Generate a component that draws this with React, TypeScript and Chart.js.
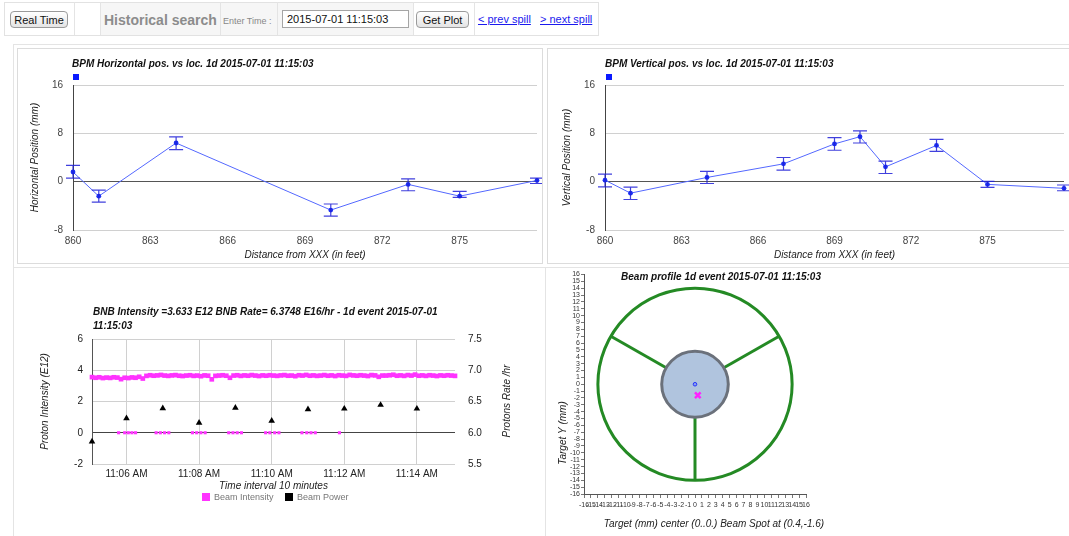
import React, { useEffect, useRef } from 'react';
import { Chart, registerables } from 'chart.js';

Chart.register(...registerables);

const FONT = "'Liberation Sans', Arial, Helvetica, sans-serif";
Chart.defaults.font.family = FONT;

// ---------- BPM horizontal ----------
const hLocations = [860, 861, 864, 870, 873, 875, 878];
const hPositions = [1.6, -2.4, 6.4, -4.7, -0.45, -2.4, 0.2];
const hErrHigh = [2.7, -1.4, 7.4, -3.7, 0.45, -1.6, 0.6];
const hErrLow = [0.6, -3.4, 5.3, -5.7, -1.5, -2.6, -0.3];

// ---------- BPM vertical ----------
const vLocations = [860, 861, 864, 867, 869, 870, 871, 873, 875, 878];
const vPositions = [0.25, -1.9, 0.7, 2.95, 6.25, 7.45, 2.45, 6.0, -0.45, -1.1];
const vErrHigh = [1.25, -0.9, 1.7, 4.0, 7.3, 8.4, 3.4, 7.0, 0.05, -0.55];
const vErrLow = [-0.85, -2.95, -0.3, 1.9, 5.2, 6.4, 1.35, 5.0, -0.95, -1.5];

// ---------- BNB intensity (seconds after 11:00:00) ----------
const timeMin = 303;
const timeMax = 903;
const timeTickSeconds = [360, 480, 600, 720, 840];
const timeTickLabels = ['11:06 AM', '11:08 AM', '11:10 AM', '11:12 AM', '11:14 AM'];
const intensityStart = 303;
const intensityStep = 6;
const intensityValues = [
  3.56, 3.52, 3.55, 3.50, 3.53, 3.51, 3.55, 3.53, 3.43, 3.52,
  3.50, 3.54, 3.52, 3.58, 3.47, 3.64, 3.68, 3.65, 3.67, 3.70,
  3.66, 3.64, 3.67, 3.69, 3.65, 3.63, 3.66, 3.68, 3.64, 3.66,
  3.62, 3.67, 3.65, 3.42, 3.64, 3.66, 3.68, 3.65, 3.52, 3.66,
  3.68, 3.64, 3.67, 3.65, 3.69, 3.66, 3.63, 3.67, 3.65, 3.68,
  3.66, 3.64, 3.67, 3.69, 3.65, 3.66, 3.62, 3.68, 3.66, 3.70,
  3.65, 3.67, 3.64, 3.66, 3.69, 3.65, 3.67, 3.63, 3.68, 3.66,
  3.64, 3.70, 3.67, 3.65, 3.68, 3.66, 3.63, 3.69, 3.67, 3.58,
  3.66, 3.66, 3.68, 3.71, 3.65, 3.67, 3.64, 3.69, 3.66, 3.72,
  3.65, 3.67, 3.64, 3.68, 3.66, 3.63, 3.67, 3.65, 3.68, 3.66, 3.64,
];
const zeroIntensityTimes = [
  347, 357, 363, 369, 375, 409, 416, 423, 430, 469, 476, 483, 490,
  529, 536, 543, 550, 590, 597, 605, 612, 650, 658, 665, 672, 712,
];
const powerTimes = [303, 360, 420, 480, 540, 600, 660, 720, 780, 840];
const powerValues = [5.86, 6.23, 6.39, 6.16, 6.40, 6.19, 6.375, 6.385, 6.445, 6.385];

// ---------- Beam profile ----------
const targetCenter = [0, 0];
const targetRadius = 14;
const coreRadius = 4.8;
const spokeAngles = [30, 150, 270];
const beamCenter = [0, 0];
const beamSpot = [0.4, -1.6];

type TextItem = {
  text?: string; x: number; y: number; font?: string; color?: string;
  align?: CanvasTextAlign; rotate?: number; rect?: boolean; w?: number; h?: number;
};

function makeDecor(items: TextItem[]) {
  return {
    id: 'decor',
    afterDraw(chart: any) {
      const ctx = chart.ctx as CanvasRenderingContext2D;
      items.forEach((it) => {
        ctx.save();
        if (it.rect) {
          ctx.fillStyle = it.color || '#000';
          ctx.fillRect(it.x, it.y, it.w || 6, it.h || 6);
        } else {
          ctx.font = it.font || `10px ${FONT}`;
          ctx.fillStyle = it.color || '#222';
          ctx.textAlign = it.align || 'left';
          ctx.textBaseline = 'middle';
          ctx.translate(it.x, it.y);
          if (it.rotate) ctx.rotate((it.rotate * Math.PI) / 180);
          ctx.fillText(it.text || '', 0, 0);
        }
        ctx.restore();
      });
    },
  };
}

function makeErrorBars(xs: number[], hi: number[], lo: number[]) {
  return {
    id: 'errorBars',
    afterDatasetsDraw(chart: any) {
      const { ctx, scales } = chart;
      const x = scales.x, y = scales.y;
      ctx.save();
      ctx.strokeStyle = 'rgba(30,30,215,0.85)';
      ctx.lineWidth = 1.2;
      xs.forEach((v, i) => {
        const px = x.getPixelForValue(v);
        const pt = y.getPixelForValue(hi[i]);
        const pb = y.getPixelForValue(lo[i]);
        ctx.beginPath();
        ctx.moveTo(px, pt); ctx.lineTo(px, pb);
        ctx.moveTo(px - 7, pt); ctx.lineTo(px + 7, pt);
        ctx.moveTo(px - 7, pb); ctx.lineTo(px + 7, pb);
        ctx.stroke();
      });
      ctx.restore();
    },
  };
}

function bpmConfig(locs: number[], pos: number[], hi: number[], lo: number[], title: string, yTitle: string, titleX: number, rightPad: number) {
  return {
    type: 'scatter',
    data: {
      datasets: [{
        data: locs.map((x, i) => ({ x, y: pos[i] })),
        showLine: true,
        borderColor: '#5468ff',
        borderWidth: 1,
        pointRadius: 2.4,
        pointBackgroundColor: '#1b2ff2',
        pointBorderWidth: 0,
        clip: false,
      }],
    },
    options: {
      animation: false,
      responsive: false,
      layout: { padding: { left: 0, right: rightPad, top: 37, bottom: 0 } },
      plugins: { legend: { display: false }, tooltip: { enabled: false } },
      scales: {
        x: {
          type: 'linear', min: 860, max: 878,
          afterFit: (s: any) => { s.height = 33; },
          ticks: {
            stepSize: 3, padding: 5, color: '#444', font: { size: 10 }, maxRotation: 0, autoSkip: false,
            callback: (v: any) => (v === 878 ? '' : String(v)),
          },
          grid: { display: false, drawTicks: false },
          border: { display: false },
          title: { display: true, text: 'Distance from XXX (in feet)', color: '#222', font: { size: 10, style: 'italic' }, padding: { top: 0, bottom: 2 } },
        },
        y: {
          type: 'linear', min: -8, max: 16,
          afterFit: (s: any) => { s.width = 56; },
          ticks: { stepSize: 8, padding: 10, color: '#444', font: { size: 10 } },
          grid: { color: (c: any) => (c.tick && c.tick.value === 0 ? '#555' : '#d0d0d0'), drawTicks: false },
          border: { display: true, color: '#444' },
          title: { display: true, text: yTitle, color: '#222', font: { size: 10, style: 'italic' }, padding: { top: 12, bottom: 0 } },
        },
      },
    },
    plugins: [
      makeErrorBars(locs, hi, lo),
      makeDecor([
        { text: title, x: titleX, y: 16, font: `italic bold 10px ${FONT}`, color: '#111' },
        { rect: true, x: titleX + 1, y: 26, w: 6, h: 6, color: '#0a1aff' },
      ]),
    ],
  };
}

function intensityConfig() {
  const band = intensityValues.map((v, i) => ({ x: intensityStart + i * intensityStep, y: v }));
  const zeros = zeroIntensityTimes.map((t) => ({ x: t, y: 0 }));
  return {
    type: 'scatter',
    data: {
      datasets: [
        {
          label: 'Beam Intensity', data: [...band, ...zeros], yAxisID: 'y',
          pointStyle: 'rect',
          pointRadius: (c: any) => (c.raw && c.raw.y === 0 ? 2.2 : 3.3),
          backgroundColor: '#ff33ff', borderWidth: 0, clip: false,
        },
        {
          label: 'Beam Power', data: powerTimes.map((t, i) => ({ x: t, y: powerValues[i] })), yAxisID: 'y1',
          pointStyle: 'triangle', pointRadius: 3.8, backgroundColor: '#000', borderWidth: 0, clip: false,
        },
      ],
    },
    options: {
      animation: false,
      responsive: false,
      layout: { padding: { left: 0, right: 0, top: 44, bottom: 0 } },
      plugins: { legend: { display: false }, tooltip: { enabled: false } },
      scales: {
        x: {
          type: 'linear', min: timeMin, max: timeMax,
          afterBuildTicks: (s: any) => { s.ticks = timeTickSeconds.map((v) => ({ value: v })); },
          afterFit: (s: any) => { s.height = 67; },
          ticks: {
            padding: 4, color: '#222', font: { size: 10 }, maxRotation: 0, autoSkip: false,
            callback: (v: any) => { const i = timeTickSeconds.indexOf(v); return i >= 0 ? timeTickLabels[i] : ''; },
          },
          grid: { color: '#d0d0d0', drawTicks: false },
          border: { display: false },
          title: { display: true, text: 'Time interval 10 minutes', color: '#222', font: { size: 10, style: 'italic' }, padding: { top: 0, bottom: 39 } },
        },
        y: {
          type: 'linear', position: 'left', min: -2, max: 6,
          afterFit: (s: any) => { s.width = 78; },
          ticks: { stepSize: 2, padding: 9, color: '#222', font: { size: 10 } },
          grid: { color: (c: any) => (c.tick && c.tick.value === 0 ? '#444' : '#d0d0d0'), drawTicks: false },
          border: { display: true, color: '#555' },
          title: { display: true, text: 'Proton Intensity (E12)', color: '#222', font: { size: 10, style: 'italic' }, padding: { top: 25, bottom: 0 } },
        },
        y1: {
          type: 'linear', position: 'right', min: 5.5, max: 7.5,
          afterFit: (s: any) => { s.width = 89; },
          ticks: { stepSize: 0.5, padding: 13, color: '#222', font: { size: 10 }, callback: (v: any) => Number(v).toFixed(1) },
          grid: { display: false, drawTicks: false },
          border: { display: false },
        },
      },
    },
    plugins: [
      makeDecor([
        { text: 'BNB Intensity =3.633 E12 BNB Rate= 6.3748 E16/hr - 1d event 2015-07-01', x: 79, y: 17, font: `italic bold 10px ${FONT}`, color: '#111' },
        { text: '11:15:03', x: 79, y: 31.5, font: `italic bold 10px ${FONT}`, color: '#111' },
        { text: 'Protons Rate /hr', x: 493, y: 106, rotate: -90, align: 'center', font: `italic 10px ${FONT}`, color: '#222' },
        { rect: true, x: 188, y: 198, w: 8, h: 8, color: '#ff33ff' },
        { text: 'Beam Intensity', x: 200, y: 202.5, font: `9px ${FONT}`, color: '#777' },
        { rect: true, x: 271, y: 198, w: 8, h: 8, color: '#000' },
        { text: 'Beam Power', x: 283, y: 202.5, font: `9px ${FONT}`, color: '#777' },
      ]),
    ],
  };
}

const targetPlugin = {
  id: 'target',
  beforeDatasetsDraw(chart: any) {
    const { ctx, scales } = chart;
    const x = scales.x, y = scales.y;
    const cx = x.getPixelForValue(targetCenter[0]);
    const cy = y.getPixelForValue(targetCenter[1]);
    const ux = Math.abs(x.getPixelForValue(1) - x.getPixelForValue(0));
    const uy = Math.abs(y.getPixelForValue(1) - y.getPixelForValue(0));
    ctx.save();
    ctx.strokeStyle = '#248a24';
    ctx.lineWidth = 3;
    spokeAngles.forEach((a) => {
      const r = (a * Math.PI) / 180;
      ctx.beginPath();
      ctx.moveTo(cx + coreRadius * Math.cos(r) * ux, cy - coreRadius * Math.sin(r) * uy);
      ctx.lineTo(cx + targetRadius * Math.cos(r) * ux, cy - targetRadius * Math.sin(r) * uy);
      ctx.stroke();
    });
    ctx.beginPath();
    ctx.ellipse(cx, cy, targetRadius * ux, targetRadius * uy, 0, 0, Math.PI * 2);
    ctx.stroke();
    ctx.beginPath();
    ctx.ellipse(cx, cy, coreRadius * ux, coreRadius * uy, 0, 0, Math.PI * 2);
    ctx.fillStyle = '#b0c4de';
    ctx.fill();
    ctx.strokeStyle = '#6b717b';
    ctx.lineWidth = 3;
    ctx.stroke();
    ctx.restore();
  },
};

function profileConfig() {
  return {
    type: 'scatter',
    data: {
      datasets: [
        { data: [{ x: beamCenter[0], y: beamCenter[1] }], pointRadius: 1.8, borderColor: '#2233ff', backgroundColor: 'rgba(80,100,255,0.35)', borderWidth: 1 },
        { data: [{ x: beamSpot[0], y: beamSpot[1] }], pointStyle: 'crossRot', pointRadius: 4, borderColor: '#ff22ff', borderWidth: 2.5 },
      ],
    },
    options: {
      animation: false,
      responsive: false,
      layout: { padding: { left: 0, right: 42, top: 4, bottom: 0 } },
      plugins: { legend: { display: false }, tooltip: { enabled: false } },
      scales: {
        x: {
          type: 'linear', min: -16, max: 16,
          afterFit: (s: any) => { s.height = 42; },
          ticks: { stepSize: 1, autoSkip: false, maxRotation: 0, minRotation: 0, padding: 3, color: '#333', font: { size: 7 } },
          grid: { drawOnChartArea: false, drawTicks: true, tickLength: 4, color: '#777' },
          border: { display: true, color: '#555' },
        },
        y: {
          type: 'linear', min: -16, max: 16,
          afterFit: (s: any) => { s.width = 36; },
          ticks: { stepSize: 1, autoSkip: false, padding: 1, color: '#333', font: { size: 7 } },
          grid: { drawOnChartArea: false, drawTicks: true, tickLength: 3, color: '#777' },
          border: { display: true, color: '#555' },
        },
      },
    },
    plugins: [
      targetPlugin,
      makeDecor([
        { text: 'Beam profile 1d event 2015-07-01 11:15:03', x: 173, y: 9, align: 'center', font: `italic bold 10px ${FONT}`, color: '#111' },
        { text: 'Target Y (mm)', x: 15, y: 165, rotate: -90, align: 'center', font: `italic 10px ${FONT}`, color: '#222' },
        { text: 'Target (mm) center (0..0.) Beam Spot at (0.4,-1.6)', x: 166, y: 256, align: 'center', font: `italic 10px ${FONT}`, color: '#222' },
      ]),
    ],
  };
}

function ChartCanvas({ make, left, top, width, height }: { make: () => any; left: number; top: number; width: number; height: number }) {
  const ref = useRef<HTMLCanvasElement>(null);
  useEffect(() => {
    const chart = new Chart(ref.current as HTMLCanvasElement, make());
    return () => chart.destroy();
  }, []);
  return (
    <canvas ref={ref} width={width} height={height}
      style={{ position: 'absolute', left, top, width, height }} />
  );
}

const abs = (left: number, top: number, extra: React.CSSProperties = {}): React.CSSProperties => ({ position: 'absolute', left, top, ...extra });

const buttonStyle: React.CSSProperties = {
  boxSizing: 'border-box', border: '1px solid #9a9a9a', borderRadius: 4,
  background: 'linear-gradient(#ffffff, #e4e4e4)', font: `11px ${FONT}`, color: '#111',
  display: 'flex', alignItems: 'center', justifyContent: 'center',
};

export default function App() {
  const cellLine = (x: number) => <div key={x} style={abs(x, 2, { width: 1, height: 33, background: '#e4e4e4' })} />;
  return (
    <div style={{ position: 'fixed', left: 0, top: 0, width: 1069, height: 536, overflow: 'hidden', background: '#fff', fontFamily: FONT }}>
      {/* top bar */}
      <div style={abs(100, 2, { width: 313, height: 33, background: '#f6f6f6' })} />
      <div style={abs(4, 2, { width: 593, height: 32, border: '1px solid #e2e2e2' })} />
      {[74, 100, 220, 277, 413, 474].map(cellLine)}
      <div style={abs(10, 11, { ...buttonStyle, width: 58, height: 17 })}>Real Time</div>
      <div style={abs(104, 10, { font: `bold 14px ${FONT}`, color: '#8c8c8c', lineHeight: '20px' })}>Historical search</div>
      <div style={abs(223, 15, { font: `9px ${FONT}`, color: '#888', lineHeight: '12px' })}>Enter Time :</div>
      <div style={abs(282, 10, { boxSizing: 'border-box', width: 127, height: 18, border: '1px solid #a5a5a5', background: '#fff', font: `11px ${FONT}`, color: '#111', lineHeight: '16px', paddingLeft: 4 })}>2015-07-01 11:15:03</div>
      <div style={abs(416, 11, { ...buttonStyle, width: 53, height: 17 })}>Get Plot</div>
      <div style={abs(478, 12, { font: `11px ${FONT}`, color: '#1a1aee', textDecoration: 'underline', lineHeight: '14px' })}>&lt; prev spill</div>
      <div style={abs(540, 12, { font: `11px ${FONT}`, color: '#1a1aee', textDecoration: 'underline', lineHeight: '14px' })}>&gt; next spill</div>

      {/* panel frames */}
      <div style={abs(13, 44, { width: 1100, height: 600, borderTop: '1px solid #e4e4e4', borderLeft: '1px solid #e4e4e4' })} />
      <div style={abs(13, 267, { width: 1100, height: 1, background: '#e4e4e4' })} />
      <div style={abs(545, 267, { width: 1, height: 300, background: '#e4e4e4' })} />
      <div style={abs(17, 48, { boxSizing: 'border-box', width: 526, height: 216, border: '1px solid #dcdcdc' })} />
      <div style={abs(547, 48, { boxSizing: 'border-box', width: 600, height: 216, border: '1px solid #dcdcdc' })} />

      <ChartCanvas make={() => bpmConfig(hLocations, hPositions, hErrHigh, hErrLow, 'BPM Horizontal pos. vs loc. 1d 2015-07-01 11:15:03', 'Horizontal Position (mm)', 55, 5)} left={17} top={48} width={525} height={215} />
      <ChartCanvas make={() => bpmConfig(vLocations, vPositions, vErrHigh, vErrLow, 'BPM Vertical pos. vs loc. 1d 2015-07-01 11:15:03', 'Vertical Position (mm)', 56, 3)} left={549} top={48} width={520} height={215} />
      <ChartCanvas make={intensityConfig} left={14} top={295} width={530} height={236} />
      <ChartCanvas make={profileConfig} left={548} top={268} width={300} height={268} />
    </div>
  );
}
